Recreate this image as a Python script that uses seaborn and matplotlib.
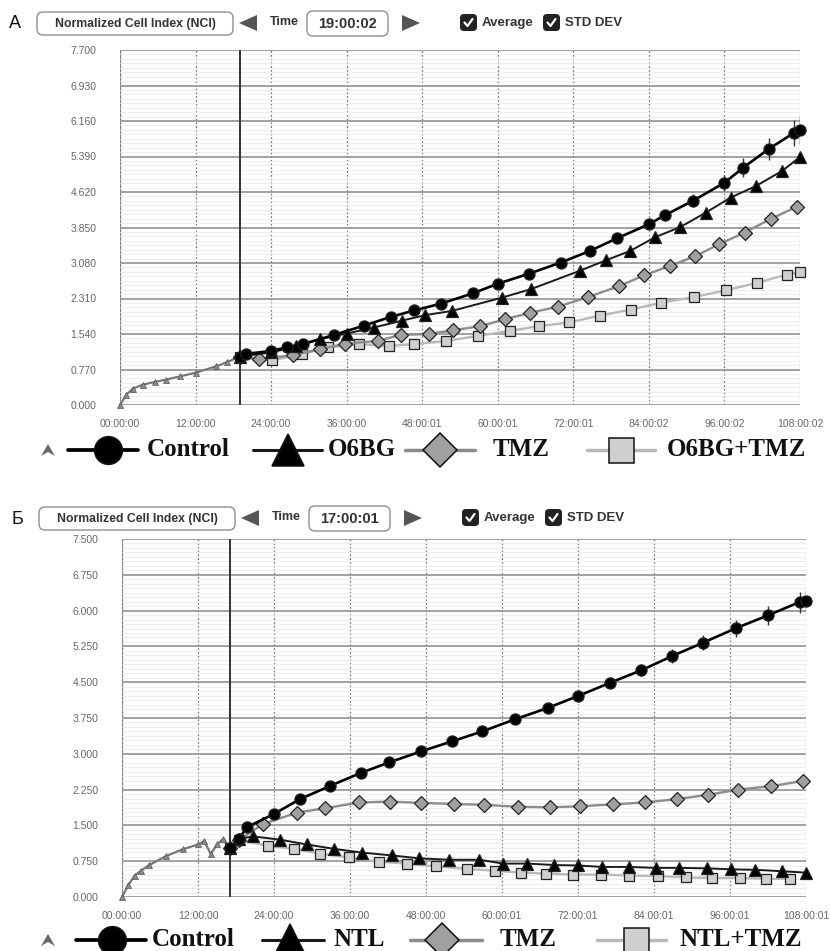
import numpy as np
import pandas as pd
import seaborn as sns
import matplotlib.pyplot as plt
import matplotlib.transforms as mtransforms
from matplotlib.patches import FancyBboxPatch, Polygon
from matplotlib.lines import Line2D
from matplotlib.ticker import AutoMinorLocator, FormatStrFormatter

# ---- panel A data (hours, normalized cell index) ----
a_pre_hours = [0, 1, 2, 3.6, 5.5, 7.3, 9.5, 12, 15.3, 17, 19]
a_pre_nci = [0, 0.22, 0.35, 0.44, 0.50, 0.55, 0.62, 0.70, 0.84, 0.93, 1.05]

a_control_hours = [19, 20, 24, 26.5, 29, 34, 38.7, 43, 46.7, 51, 56, 60, 65, 70, 74.6,
                   79, 84, 86.6, 91, 96, 99, 103, 107, 108]
a_control_nci = [1.05, 1.11, 1.17, 1.25, 1.32, 1.52, 1.72, 1.91, 2.05, 2.20, 2.42, 2.63, 2.85,
                 3.09, 3.34, 3.62, 3.92, 4.12, 4.43, 4.82, 5.15, 5.55, 5.90, 5.97]
a_control_std = [0.02, 0.02, 0.02, 0.03, 0.03, 0.03, 0.04, 0.04, 0.05, 0.05, 0.06, 0.06, 0.07,
                 0.07, 0.08, 0.09, 0.10, 0.12, 0.14, 0.17, 0.20, 0.24, 0.28, 0.30]

a_o6bg_hours = [19, 24, 28, 31.8, 36, 40.3, 44.8, 48.5, 52.7, 60.7, 65.2, 73, 77.2, 81, 85,
                89, 93, 97, 101, 105.2, 108]
a_o6bg_nci = [1.05, 1.14, 1.27, 1.43, 1.55, 1.68, 1.83, 1.95, 2.04, 2.33, 2.51, 2.91, 3.14,
              3.34, 3.64, 3.86, 4.17, 4.50, 4.75, 5.08, 5.38]

a_tmz_hours = [19, 22, 27.4, 31.7, 35.8, 40.9, 44.6, 49, 52.9, 57.2, 61.2, 65.1, 69.5, 74.3,
               79.3, 83.2, 87.4, 91.4, 95.2, 99.2, 103.4, 107.5]
a_tmz_nci = [1.05, 0.99, 1.08, 1.21, 1.33, 1.39, 1.52, 1.54, 1.62, 1.71, 1.86, 2.00, 2.13, 2.34,
             2.58, 2.81, 3.02, 3.23, 3.49, 3.74, 4.04, 4.30]

a_combo_hours = [19, 24.1, 28.9, 33, 37.9, 42.7, 46.7, 51.8, 56.9, 62, 66.5, 71.3, 76.3, 81.1,
                 86, 91.1, 96.3, 101.2, 105.9, 108]
a_combo_nci = [1.05, 0.97, 1.10, 1.25, 1.32, 1.28, 1.32, 1.39, 1.50, 1.61, 1.71, 1.79, 1.94,
               2.07, 2.22, 2.34, 2.49, 2.65, 2.83, 2.88]

a_xticklabels = ['00:00:00', '12:00:00', '24:00:00', '36:00:00', '48:00:01', '60:00:01',
                 '72:00:01', '84:00:02', '96:00:02', '108:00:02']

# ---- panel B data ----
b_pre_hours = [0, 1, 2, 3, 4.3, 7, 9.6, 12, 13, 14, 15, 16, 17]
b_pre_nci = [0, 0.25, 0.45, 0.55, 0.67, 0.86, 1.00, 1.10, 1.17, 0.90, 1.10, 1.22, 1.02]

b_control_hours = [17, 18.5, 19.7, 24, 28.1, 32.9, 37.7, 42.2, 47.2, 52.1, 56.9, 62, 67.2, 72,
                   77.1, 82, 86.9, 91.8, 96.9, 102, 107, 108]
b_control_nci = [1.02, 1.22, 1.46, 1.74, 2.05, 2.33, 2.60, 2.82, 3.05, 3.26, 3.47, 3.72, 3.96,
                 4.21, 4.49, 4.75, 5.05, 5.33, 5.63, 5.90, 6.18, 6.20]
b_control_std = [0.02, 0.02, 0.03, 0.03, 0.03, 0.04, 0.04, 0.05, 0.05, 0.06, 0.07, 0.08, 0.09,
                 0.10, 0.11, 0.13, 0.14, 0.16, 0.18, 0.20, 0.22, 0.24]

b_tmz_hours = [17, 18.5, 22.3, 27.7, 32.1, 37.4, 42.3, 47.2, 52.4, 57.2, 62.5, 67.5, 72.3,
               77.5, 82.5, 87.6, 92.5, 97.3, 102.4, 107.5]
b_tmz_nci = [1.02, 1.20, 1.53, 1.77, 1.86, 1.98, 2.00, 1.97, 1.95, 1.93, 1.89, 1.88, 1.90,
             1.94, 1.98, 2.05, 2.14, 2.25, 2.32, 2.43]

b_ntl_hours = [17, 18.5, 20.7, 25, 29.2, 33.4, 37.9, 42.7, 46.9, 51.7, 56.4, 60.2, 64, 68.2,
               72, 75.8, 80, 84.3, 88, 92.4, 96.2, 100, 104.2, 108]
b_ntl_nci = [1.02, 1.22, 1.27, 1.20, 1.10, 1.01, 0.93, 0.87, 0.81, 0.78, 0.78, 0.70, 0.70,
             0.67, 0.66, 0.63, 0.63, 0.61, 0.61, 0.60, 0.58, 0.57, 0.54, 0.51]

b_combo_hours = [17, 18.5, 23.1, 27.1, 31.3, 35.8, 40.6, 45, 49.6, 54.5, 58.9, 63, 67, 71.2,
                 75.7, 80, 84.6, 89, 93.2, 97.5, 101.7, 105.5]
b_combo_nci = [1.02, 1.20, 1.07, 1.01, 0.91, 0.83, 0.74, 0.70, 0.64, 0.59, 0.55, 0.51, 0.49,
               0.47, 0.47, 0.45, 0.44, 0.41, 0.40, 0.40, 0.38, 0.38]

b_xticklabels = ['00:00:00', '12:00:00', '24:00:00', '36:00:00', '48:00:00', '60:00:01',
                 '72:00:01', '84:00:01', '96:00:01', '108:00:01']

# series look: line colour, marker, marker face, marker size
STYLE = {
    'combo': dict(color='#b9b9b9', marker='s', mfc='#cfcfcf', ms=7.5, lw=1.7),
    'tmz': dict(color='#8c8c8c', marker='D', mfc='#a0a0a0', ms=7.5, lw=1.7),
    'drug': dict(color='#1a1a1a', marker='^', mfc='#000000', ms=8.5, lw=1.4),
    'control': dict(color='#000000', marker='o', mfc='#000000', ms=8, lw=1.9),
}

sns.set_style('white')
plt.rcParams['font.family'] = ['Liberation Sans', 'DejaVu Sans']

fig = plt.figure(figsize=(8.3, 9.51), dpi=100)
# pixel transform, origin at the top-left corner of the 830x951 image
px = mtransforms.Affine2D().scale(1 / 100, -1 / 100).translate(0, 9.51) + fig.dpi_scale_trans


def draw_series(ax, hours, values, key):
    st = STYLE[key]
    df = pd.DataFrame({'hours': hours, 'nci': values})
    sns.lineplot(data=df, x='hours', y='nci', ax=ax, color=st['color'], linewidth=st['lw'],
                 marker=st['marker'], markersize=st['ms'], markerfacecolor=st['mfc'],
                 markeredgecolor='#222222', markeredgewidth=0.9, clip_on=False, sort=True)


def setup_axes(ax, ymax, xticklabels, treat_hour):
    ax.set_xlim(0, 108)
    ax.set_ylim(0, ymax)
    ax.set_xticks(np.arange(0, 109, 12))
    ax.set_xticklabels(xticklabels)
    ax.set_yticks(np.linspace(0, ymax, 11))
    ax.yaxis.set_major_formatter(FormatStrFormatter('%.3f'))
    ax.yaxis.set_minor_locator(AutoMinorLocator(8))
    ax.set_axisbelow(True)
    ax.grid(which='major', axis='y', color='#9a9a9a', lw=1.3)
    ax.grid(which='minor', axis='y', color='#ebebeb', lw=0.6)
    ax.grid(which='major', axis='x', color='#7a7a7a', lw=0.9, ls=(0, (1.5, 1.5)))
    ax.axvline(0, color='#8a8a8a', lw=1.5, zorder=0.5)
    ax.axvline(treat_hour, color='#333333', lw=1.2, zorder=1)
    ax.tick_params(axis='y', which='major', length=13, width=1.3, color='#9a9a9a', pad=4,
                   labelsize=7.5, labelcolor='#666666')
    ax.tick_params(axis='y', which='minor', length=0)
    ax.tick_params(axis='x', length=7, width=1, color='#9a9a9a', pad=3,
                   labelsize=7.5, labelcolor='#666666')
    for s in ax.spines.values():
        s.set_visible(False)
    ax.set_xlabel('')
    ax.set_ylabel('')


def draw_header(letter, y, time_str, dx):
    fig.text(15 + dx, y + 1, letter, transform=px, fontsize=13, ha='center', va='center',
             color='#111111')
    fig.add_artist(FancyBboxPatch((37 + dx, y - 11), 196, 23, transform=px,
                                  boxstyle='round,pad=0,rounding_size=6',
                                  fc='white', ec='#8f8f8f', lw=1))
    fig.text(135 + dx, y + 1, 'Normalized Cell Index (NCI)', transform=px, fontsize=8.8,
             weight='bold', ha='center', va='center', color='#333333')
    fig.add_artist(Polygon([(239 + dx, y), (257 + dx, y - 8), (257 + dx, y + 8)],
                           closed=True, transform=px, fc='#555555', ec='none'))
    fig.text(284 + dx, y - 1, 'Time', transform=px, fontsize=9, weight='bold',
             ha='center', va='center', color='#333333')
    fig.add_artist(FancyBboxPatch((307 + dx, y - 12), 81, 25, transform=px,
                                  boxstyle='round,pad=0,rounding_size=6',
                                  fc='white', ec='#8f8f8f', lw=1))
    fig.text(347.5 + dx, y + 1, time_str, transform=px, fontsize=10.5, weight='bold',
             ha='center', va='center', color='#333333')
    fig.add_artist(Polygon([(402 + dx, y - 8), (402 + dx, y + 8), (420 + dx, y)],
                           closed=True, transform=px, fc='#555555', ec='none'))
    for cx, label in [(460 + dx, 'Average'), (543 + dx, 'STD DEV')]:
        fig.add_artist(FancyBboxPatch((cx, y - 9), 17, 17, transform=px,
                                      boxstyle='round,pad=0,rounding_size=4',
                                      fc='#222222', ec='none'))
        fig.add_artist(Line2D([cx + 4.5, cx + 7.5, cx + 12.5], [y - 0.5, y + 3, y - 4],
                              transform=px, color='white', lw=1.6))
        fig.text(cx + 22, y, label, transform=px, fontsize=9.5, weight='semibold',
                 ha='left', va='center', color='#333333')


def draw_legend(y, entries):
    fig.add_artist(Polygon([(41, y + 6), (48, y - 6), (55, y + 6), (48, y + 2)],
                           closed=True, transform=px, fc='#6a6a6a', ec='none'))
    for key, x0, x1, xm, ms, tx, label in entries:
        st = STYLE[key]
        fig.add_artist(Line2D([x0, x1], [y, y], transform=px, color=st['color'],
                              lw=st['lw'] + 0.8))
        fig.add_artist(Line2D([xm], [y], transform=px, marker=st['marker'], ms=ms,
                              mfc=st['mfc'], mec='#111111', mew=1.1, lw=0))
        fig.text(tx, y, label, transform=px, family='Liberation Serif', weight='bold',
                 fontsize=18, ha='left', va='center', color='#111111')


# ---- panel A ----
ax_a = fig.add_axes([120 / 830, 1 - 405 / 951, 680 / 830, 355 / 951])
setup_axes(ax_a, 7.7, a_xticklabels, 19)
ax_a.plot(a_pre_hours, a_pre_nci, color='#777777', lw=1.6, marker='^', ms=4,
          mfc='#8a8a8a', mec='#555555', mew=0.5, clip_on=False)
ax_a.errorbar(a_control_hours, a_control_nci, yerr=a_control_std, fmt='none',
              ecolor='#333333', elinewidth=1, capsize=0)
draw_series(ax_a, a_combo_hours, a_combo_nci, 'combo')
draw_series(ax_a, a_tmz_hours, a_tmz_nci, 'tmz')
draw_series(ax_a, a_o6bg_hours, a_o6bg_nci, 'drug')
draw_series(ax_a, a_control_hours, a_control_nci, 'control')
setup_axes(ax_a, 7.7, a_xticklabels, 19)

# ---- panel B ----
ax_b = fig.add_axes([122 / 830, 1 - 897 / 951, 684 / 830, 358 / 951])
setup_axes(ax_b, 7.5, b_xticklabels, 17)
ax_b.plot(b_pre_hours, b_pre_nci, color='#777777', lw=1.6, marker='^', ms=4,
          mfc='#8a8a8a', mec='#555555', mew=0.5, clip_on=False)
ax_b.errorbar(b_control_hours, b_control_nci, yerr=b_control_std, fmt='none',
              ecolor='#333333', elinewidth=1, capsize=0)
draw_series(ax_b, b_combo_hours, b_combo_nci, 'combo')
draw_series(ax_b, b_tmz_hours, b_tmz_nci, 'tmz')
draw_series(ax_b, b_ntl_hours, b_ntl_nci, 'drug')
draw_series(ax_b, b_control_hours, b_control_nci, 'control')
setup_axes(ax_b, 7.5, b_xticklabels, 17)

# ---- headers and legends ----
draw_header('A', 23, '19:00:02', 0)
draw_header('Б', 518, '17:00:01', 2)

draw_legend(450, [('control', 68, 138, 108, 20, 147, 'Control'),
                  ('drug', 253, 322, 288, 23, 328, 'O6BG'),
                  ('tmz', 405, 475, 440, 17, 493, 'TMZ'),
                  ('combo', 587, 655, 621, 18, 667, 'O6BG+TMZ')])
draw_legend(940, [('control', 76, 146, 112, 20, 152, 'Control'),
                  ('drug', 262, 324, 290, 23, 333, 'NTL'),
                  ('tmz', 410, 482, 442, 17, 500, 'TMZ'),
                  ('combo', 597, 666, 636, 18, 679, 'NTL+TMZ')])

fig.savefig('out.png', dpi=100, facecolor='white')
